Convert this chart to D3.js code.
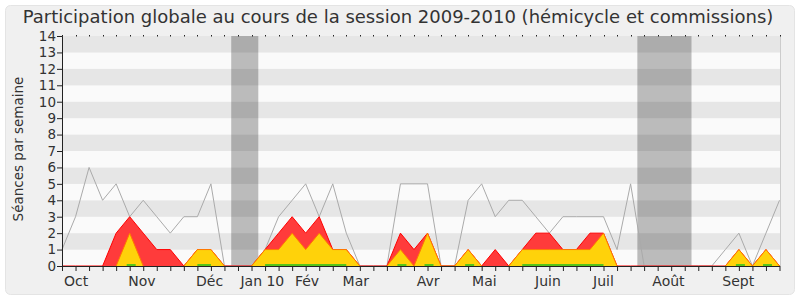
<!DOCTYPE html>
<html>
<head>
<meta charset="utf-8">
<script src="https://cdn.jsdelivr.net/npm/d3@7"></script>
<style>
  body { margin: 0; background: #fff; }
  svg { display: block; font-family: "DejaVu Sans", sans-serif; }
</style>
</head>
<body>
<div id="chart"></div>
<script>
// weekly values, session oct 2009 - sept 2010 (54 weeks)
const presence = [1, 3, 6, 4, 5, 3, 4, 3, 2, 3, 3, 5, 0, 0, 0, 1, 3, 4, 5, 3, 5, 2, 0, 0, 0, 5, 5, 5, 0, 0, 4, 5, 3, 4, 4, 3, 2, 3, 3, 3, 3, 1, 5, 0, 0, 0, 0, 0, 0, 1, 2, 0, 2, 4];
const participation = [0, 0, 0, 0, 2, 3, 2, 1, 1, 0, 1, 1, 0, 0, 0, 1, 2, 3, 2, 3, 1, 1, 0, 0, 0, 2, 1, 2, 0, 0, 1, 0, 1, 0, 1, 2, 2, 1, 1, 2, 2, 0, 0, 0, 0, 0, 0, 0, 0, 0, 1, 0, 1, 0];
const interventions = [0, 0, 0, 0, 0, 2, 0, 0, 0, 0, 1, 1, 0, 0, 0, 1, 1, 2, 1, 2, 1, 1, 0, 0, 0, 1, 0, 2, 0, 0, 1, 0, 0, 0, 1, 1, 1, 1, 1, 1, 2, 0, 0, 0, 0, 0, 0, 0, 0, 0, 1, 0, 1, 0];
const months = ["Oct", "Nov", "Déc", "Jan 10", "Fév", "Mar", "Avr", "Mai", "Juin", "Juil", "Août", "Sept"];
const monthWeek = [1.05, 5.9, 10.9, 14.8, 18.1, 21.7, 27.05, 31.2, 35.9, 40, 44.8, 49.95];
const vacances = [[12.5, 14.5], [42.5, 46.5]];
const yTicks = d3.range(0, 15);

const W = 800, H = 300;
const margin = {top: 36, right: 20, bottom: 34, left: 62};
const w = W - margin.left - margin.right;
const h = H - margin.top - margin.bottom;

const svg = d3.select("#chart").append("svg")
  .attr("width", W)
  .attr("height", H);

// background panel
svg.append("rect")
  .attr("x", 5.5).attr("y", 5.5)
  .attr("width", W - 11).attr("height", H - 11)
  .attr("rx", 5)
  .attr("fill", "#f0f0f0")
  .attr("stroke", "#e4e4e4");

svg.append("text")
  .attr("x", 398)
  .attr("y", 23)
  .attr("text-anchor", "middle")
  .attr("font-size", 18)
  .attr("fill", "#333")
  .text("Participation globale au cours de la session 2009-2010 (hémicycle et commissions)");

const g = svg.append("g")
  .attr("transform", `translate(${margin.left}, ${margin.top})`);

const x = d3.scaleLinear().domain([0, presence.length - 1]).range([0, w - 0.5]);
const y = d3.scaleLinear().domain([0, 14]).range([h, 0]);

// stripes
g.selectAll(".stripe")
  .data(d3.range(0, 14))
  .enter()
  .append("rect")
  .attr("class", "stripe")
  .attr("x", 0)
  .attr("y", d => y(d + 1))
  .attr("width", w)
  .attr("height", d => y(d) - y(d + 1))
  .attr("fill", d => d % 2 ? "#e6e6e6" : "#fafafa");

// vacations
g.selectAll(".vac")
  .data(vacances)
  .enter()
  .append("rect")
  .attr("x", d => x(d[0]))
  .attr("y", 0)
  .attr("width", d => x(d[1]) - x(d[0]))
  .attr("height", h)
  .attr("fill", "#000")
  .attr("fill-opacity", 0.25);

// right border
g.append("line")
  .attr("x1", w + 0.5).attr("x2", w + 0.5)
  .attr("y1", 0).attr("y2", h)
  .attr("stroke", "#ccc");

// presence line
g.append("path")
  .datum(presence)
  .attr("fill", "none")
  .attr("stroke", "#aaa")
  .attr("stroke-width", 1)
  .attr("d", d3.line().x((d, i) => x(i)).y(d => y(d)));

const area = d3.area().x((d, i) => x(i)).y0(y(0)).y1(d => y(d));
const line = d3.line().x((d, i) => x(i)).y(d => y(d));

g.append("path")
  .datum(participation)
  .attr("fill", "#ff3b3b")
  .attr("d", area);
g.append("path")
  .datum(participation)
  .attr("fill", "none")
  .attr("stroke", "#ff0000")
  .attr("d", line);

g.append("path")
  .datum(interventions)
  .attr("fill", "#ffd20a")
  .attr("d", area);
g.append("path")
  .datum(interventions)
  .attr("fill", "none")
  .attr("stroke", "#ff7a00")
  .attr("d", line.defined((d, i) => d > 0 || interventions[i - 1] > 0 || interventions[i + 1] > 0));

// green baseline where there were interventions
g.append("path")
  .datum(interventions)
  .attr("fill", "none")
  .attr("stroke", "#1fc01f")
  .attr("stroke-width", 1.5)
  .attr("d", d3.line()
    .defined(d => d > 0)
    .x((d, i) => x(i))
    .y(y(0) - 1));
g.selectAll(".stub")
  .data(interventions.map((d, i) => ({d, i})).filter(o => o.d > 0 && !(interventions[o.i - 1] > 0) && !(interventions[o.i + 1] > 0)))
  .enter()
  .append("line")
  .attr("x1", o => x(o.i) - 3)
  .attr("x2", o => x(o.i) + 6)
  .attr("y1", y(0) - 1).attr("y2", y(0) - 1)
  .attr("stroke", "#1fc01f")
  .attr("stroke-width", 1.5);

// x axis: weekly ticks
const xAxis = g.append("g")
  .attr("transform", `translate(0, ${h})`)
  .call(d3.axisBottom(x).tickValues(d3.range(0, presence.length)).tickSize(5).tickFormat(""));
xAxis.select(".domain").attr("stroke", "#222").attr("d", `M0.5,0.5H${w}`);
xAxis.selectAll(".tick line").attr("stroke", "#222");

// top dots
g.selectAll(".topdot")
  .data(d3.range(0, presence.length))
  .enter()
  .append("rect")
  .attr("x", d => Math.round(x(d)))
  .attr("y", -1)
  .attr("width", 1)
  .attr("height", 1.5)
  .attr("fill", "#222");

g.selectAll(".month")
  .data(months)
  .enter()
  .append("text")
  .attr("x", (d, i) => x(monthWeek[i]))
  .attr("y", h + 20)
  .attr("text-anchor", "middle")
  .attr("font-size", 14)
  .attr("fill", "#333")
  .text(d => d);

// y axis
const yAxis = g.append("g")
  .call(d3.axisLeft(y).tickValues(yTicks).tickSize(5).tickPadding(1));
yAxis.select(".domain").attr("stroke", "#222");
yAxis.selectAll(".tick line").attr("stroke", "#222");
yAxis.selectAll(".tick text")
  .attr("font-size", 13.5)
  .attr("font-family", "DejaVu Sans")
  .attr("fill", "#333");

svg.append("text")
  .attr("transform", "rotate(-90)")
  .attr("x", -(margin.top + h / 2) + 2)
  .attr("y", 23)
  .attr("text-anchor", "middle")
  .attr("font-size", 13.5)
  .attr("fill", "#333")
  .text("Séances par semaine");
</script>
</body>
</html>
